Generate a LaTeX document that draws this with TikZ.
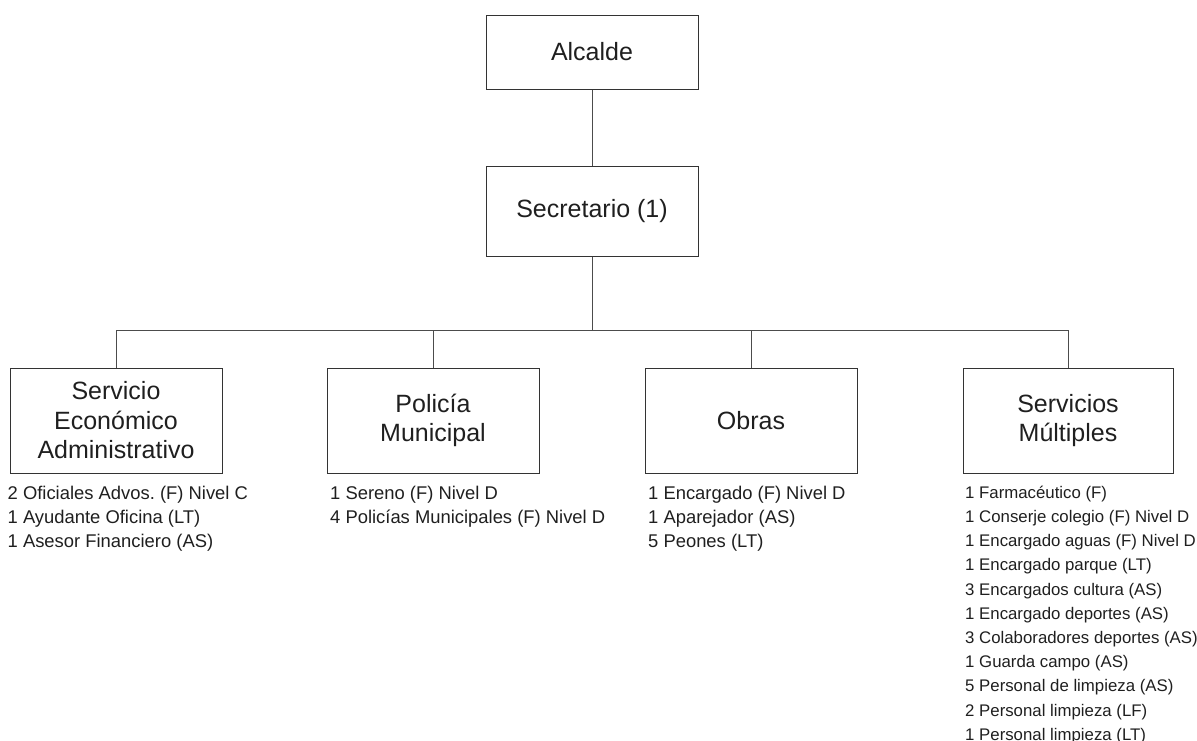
\documentclass[tikz,border=0pt]{standalone}
\usepackage{fontspec}
\setmainfont{Liberation Sans}
\frenchspacing
\begin{document}
\begin{tikzpicture}[x=1pt,y=-1pt,
  box/.style={draw=black!80, line width=1pt, inner sep=0pt, minimum width=212pt,
    align=center, text=black!88, font=\fontsize{25}{29.5}\selectfont},
  link/.style={draw=black!70, line width=1pt},
  staff/.style={anchor=north west, inner sep=0pt, align=left, text=black!88,
    font=\fontsize{18.4}{24.3}\selectfont},
  staffsmall/.style={staff, font=\fontsize{16.8}{24.2}\selectfont}]
\useasboundingbox (0,0) rectangle (1197,740);

\node[box, minimum height=74pt] (alc) at (592,52) {Alcalde};
\node[box, minimum height=90pt] (sec) at (592,211) {Secretario (1)};

\node[box, minimum height=105pt] (b1) at (116,420.5) {Servicio\\Económico\\Administrativo};
\node[box, minimum height=105pt] (b2) at (433,420.5) {Policía\\Municipal};
\node[box, minimum height=105pt] (b3) at (751,420.5) {Obras};
\node[box, minimum width=210pt, minimum height=105pt] (b4) at (1068,420.5) {Servicios\\Múltiples};

\coordinate (bus) at (592,330);
\draw[link] (alc) -- (sec);
\draw[link] (sec) -- (bus);
\foreach \n in {b1,b2,b3,b4} \draw[link] (\n.north) |- (bus);

\node[staff] (l1) at (7.5,484) {\rule{0pt}{15pt}2 Oficiales Advos. (F) Nivel C\\1 Ayudante Oficina (LT)\\1 Asesor Financiero (AS)};
\node[staff] (l2) at (330,484) {\rule{0pt}{15pt}1 Sereno (F) Nivel D\\4 Policías Municipales (F) Nivel D};
\node[staff] (l3) at (648,484) {\rule{0pt}{15pt}1 Encargado (F) Nivel D\\1 Aparejador (AS)\\5 Peones (LT)};
\node[staffsmall] (l4) at (965,483) {\rule{0pt}{15pt}1 Farmacéutico (F)\\1 Conserje colegio (F) Nivel D\\1 Encargado aguas (F) Nivel D\\1 Encargado parque (LT)\\3 Encargados cultura (AS)\\1 Encargado deportes (AS)\\3 Colaboradores deportes (AS)\\1 Guarda campo (AS)\\5 Personal de limpieza (AS)\\2 Personal limpieza (LF)\\1 Personal limpieza (LT)};
\end{tikzpicture}
\end{document}
